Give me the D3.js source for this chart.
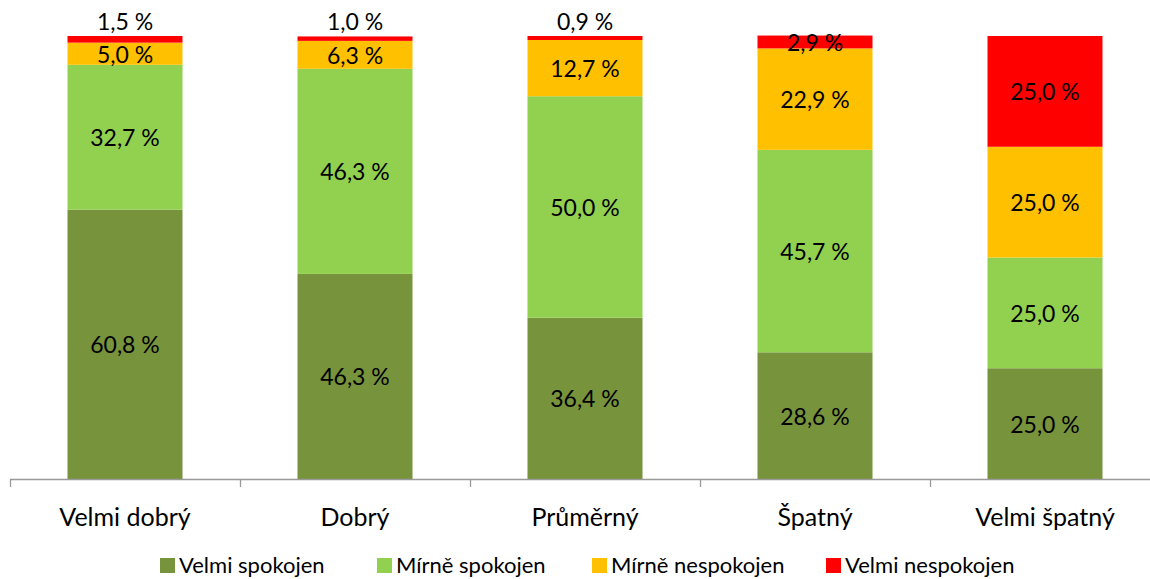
<!DOCTYPE html>
<html>
<head>
<meta charset="utf-8">
<script src="https://cdn.jsdelivr.net/npm/d3@7"></script>
<style>
  body { margin: 0; background: #fff; }
  svg { display: block; font-family: Lato, "Open Sans", sans-serif; }
</style>
</head>
<body>
<svg id="chart" width="1150" height="579"></svg>
<script>
// categories and series (percent of respondents)
var categories = ["Velmi dobrý", "Dobrý", "Průměrný", "Špatný", "Velmi špatný"];
var seriesNames = ["Velmi spokojen", "Mírně spokojen", "Mírně nespokojen", "Velmi nespokojen"];
var seriesColors = ["#77933C", "#92D050", "#FFC000", "#FF0000"];

var velmiSpokojen = [60.8, 46.3, 36.4, 28.6, 25.0];
var mirneSpokojen = [32.7, 46.3, 50.0, 45.7, 25.0];
var mirneNespokojen = [5.0, 6.3, 12.7, 22.9, 25.0];
var velmiNespokojen = [1.5, 1.0, 0.9, 2.9, 25.0];

var seriesValues = [velmiSpokojen, mirneSpokojen, mirneNespokojen, velmiNespokojen];

var width = 1150, height = 579;
var margin = {left: 10, right: -10, top: 36, bottom: 100};

var svg = d3.select("#chart");

var rows = categories.map(function (c, i) {
    var r = {cat: c};
    seriesNames.forEach(function (s, j) { r[s] = seriesValues[j][i]; });
    return r;
});

var stack = d3.stack().keys(seriesNames);
var layers = stack(rows);

var x = d3.scaleBand()
    .domain(categories)
    .range([margin.left, width - margin.right])
    .paddingInner(0.5)
    .paddingOuter(0.25);

var y = d3.scaleLinear()
    .domain([0, 100])
    .range([height - margin.bottom, margin.top]);

var baseY = y(0);

var fmt = function (v) { return d3.format(".1f")(v).replace(".", ",") + " %"; };

var g = svg.append("g");

layers.forEach(function (layer, j) {
    g.selectAll(null)
        .data(layer)
        .enter().append("rect")
        .attr("x", function (d) { return x(d.data.cat); })
        .attr("width", x.bandwidth())
        .attr("y", function (d) { return y(d[1]); })
        .attr("height", function (d) { return y(d[0]) - y(d[1]); })
        .attr("fill", seriesColors[j]);
});

// labels; tiny top segments get pushed above the bar
layers.forEach(function (layer, j) {
    g.selectAll(null)
        .data(layer)
        .enter().append("text")
        .attr("x", function (d) { return x(d.data.cat) + x.bandwidth() / 2; })
        .attr("y", function (d) {
            var v = d[1] - d[0];
            if (v < 2 && j === seriesNames.length - 1) return y(d[1]) - 15;
            return (y(d[0]) + y(d[1])) / 2;
        })
        .attr("text-anchor", "middle")
        .attr("dominant-baseline", "central")
        .attr("font-size", "23px")
        .attr("fill", "#000")
        .text(function (d) { return fmt(d[1] - d[0]); });
});

// x axis with tick marks between categories
var step = x.step();
var axisG = svg.append("g");
axisG.append("line")
    .attr("x1", margin.left).attr("x2", width)
    .attr("y1", baseY + 0.5).attr("y2", baseY + 0.5)
    .attr("stroke", "#999").attr("stroke-width", 1.3);

d3.range(categories.length + 1).forEach(function (i) {
    var tx = Math.round(margin.left + i * step) + 0.5;
    axisG.append("line")
        .attr("x1", tx).attr("x2", tx)
        .attr("y1", baseY).attr("y2", baseY + 8)
        .attr("stroke", "#999").attr("stroke-width", 1.3);
});

axisG.selectAll(null)
    .data(categories)
    .enter().append("text")
    .attr("x", function (d) { return x(d) + x.bandwidth() / 2; })
    .attr("y", 516)
    .attr("text-anchor", "middle")
    .attr("dominant-baseline", "central")
    .attr("font-size", "25px")
    .attr("fill", "#000")
    .text(function (d) { return d; });

// legend
var legendX = [160, 377, 592, 826];
var legend = svg.append("g");
seriesNames.forEach(function (s, j) {
    legend.append("rect")
        .attr("x", legendX[j]).attr("y", 558)
        .attr("width", 15).attr("height", 15)
        .attr("fill", seriesColors[j]);
    legend.append("text")
        .attr("x", legendX[j] + 19).attr("y", 564)
        .attr("dominant-baseline", "central")
        .attr("font-size", "22px")
        .attr("fill", "#000")
        .text(s);
});
</script>
</body>
</html>
